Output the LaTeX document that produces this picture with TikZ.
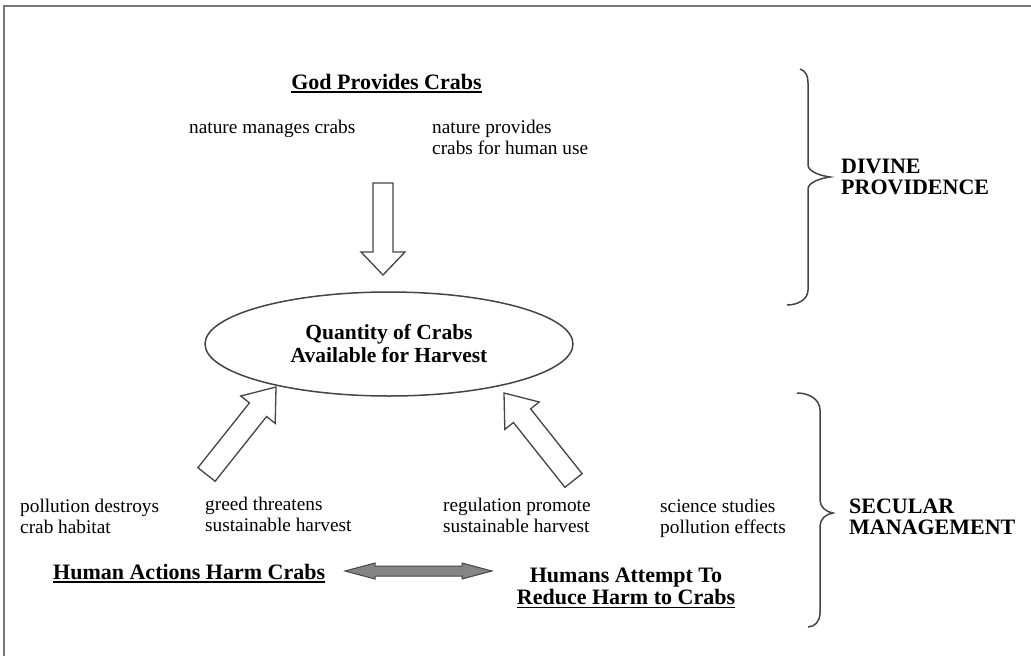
\documentclass[tikz,border=0pt]{standalone}
\usepackage{fontspec}
\setmainfont{Liberation Serif}
\usetikzlibrary{shapes.geometric}
\newcommand{\myul}[1]{\setbox0=\hbox{#1}\rlap{\rule[-3.6pt]{\wd0}{1.3pt}}\box0}
\definecolor{framegray}{HTML}{777777}
\definecolor{linegray}{HTML}{444444}
\definecolor{arrowfill}{HTML}{858585}
\tikzset{
  reg/.style={font=\fontsize{19.3}{21}\selectfont, inner sep=0pt, align=left, anchor=north west},
  regone/.style={font=\fontsize{19.3}{21}\selectfont, inner sep=0pt, anchor=base west},
  bld/.style={font=\fontsize{22}{21}\selectfont\bfseries, inner sep=0pt},
  blockarrow/.style={draw=linegray, line width=1.3pt, fill=white, line join=miter},
  bracepath/.style={draw=linegray, line width=1.5pt},
}
\begin{document}
\begin{tikzpicture}[x=1pt,y=-1pt]
\useasboundingbox (0,0) rectangle (1031,656);
% frame
\draw[framegray, line width=2pt] (4,656) -- (4,6) -- (1031,6);

% top title and texts
\node[bld, anchor=base] (god) at (386.5,89) {\myul{God Provides Crabs}};
\node[regone] (nm) at (189,133) {nature manages crabs};
\node[reg] (np) at (432,118.3) {\strut nature provides\\crabs for human use};

% ellipse
\node[ellipse, draw=linegray, line width=1.5pt, minimum width=368pt, minimum height=104pt, inner sep=0pt,
      font=\fontsize{21.5}{23}\selectfont\bfseries, align=center] (q) at (389,344)
      {Quantity of Crabs\\Available for Harvest};

% down block arrow
\draw[blockarrow] (373,183) -- (393,183) -- (393,252) -- (405,252) -- (383,275) -- (361,252) -- (373,252) -- cycle;

% left diagonal block arrow
\draw[blockarrow] (215.1,481.3) -- (266.6,416.5) -- (275.2,423.4) -- (276,387) -- (240.8,396.0) -- (249.4,402.9) -- (197.9,467.7) -- cycle;

% right diagonal block arrow
\draw[blockarrow] (564.9,487.3) -- (513.4,422.5) -- (504.8,429.4) -- (504,393) -- (539.2,402.0) -- (530.6,408.9) -- (582.1,473.7) -- cycle;

% lower texts
\node[reg] (pd) at (20,497.3) {\strut pollution destroys\\crab habitat};
\node[reg] (gt) at (205,495.3) {\strut greed threatens\\sustainable harvest};
\node[reg] (rp) at (443,496.3) {\strut regulation promote\\sustainable harvest};
\node[reg] (ss) at (660,497.3) {\strut science studies\\pollution effects};

\node[bld, anchor=base west] (ha) at (53,579) {\myul{Human Actions Harm Crabs}};
\node[bld, align=center, anchor=north, font=\fontsize{22}{22}\selectfont\bfseries] (hr) at (626,566.6)
      {\strut Humans Attempt To\\\myul{Reduce Harm to Crabs}};

% double arrow
\draw[draw=linegray, line width=1pt, fill=arrowfill] (345,571) -- (375,563) -- (375,566) -- (462,566) -- (462,563) -- (492,571) -- (462,579) -- (462,576) -- (375,576) -- (375,579) -- cycle;

% braces
\draw[bracepath] (800,69) .. controls (806,71) and (808,76) .. (808,83) -- (808,165)
  .. controls (808,172) and (822,176) .. (830,177)
  .. controls (822,178) and (808,182) .. (808,189) -- (808,290)
  .. controls (808,300) and (797,305) .. (787,305);
\draw[bracepath] (797,393) .. controls (810,393) and (820,400) .. (820,410) -- (820,500)
  .. controls (820,507) and (826,512) .. (833,513)
  .. controls (826,514) and (820,519) .. (820,526) -- (820,613)
  .. controls (820,621) and (815,627) .. (808,627);

\node[bld, align=left, anchor=north west] (dp) at (841,158.6) {\strut DIVINE\\PROVIDENCE};
\node[bld, align=left, anchor=north west] (sm) at (849,498.7) {\strut SECULAR\\MANAGEMENT};
\end{tikzpicture}
\end{document}
